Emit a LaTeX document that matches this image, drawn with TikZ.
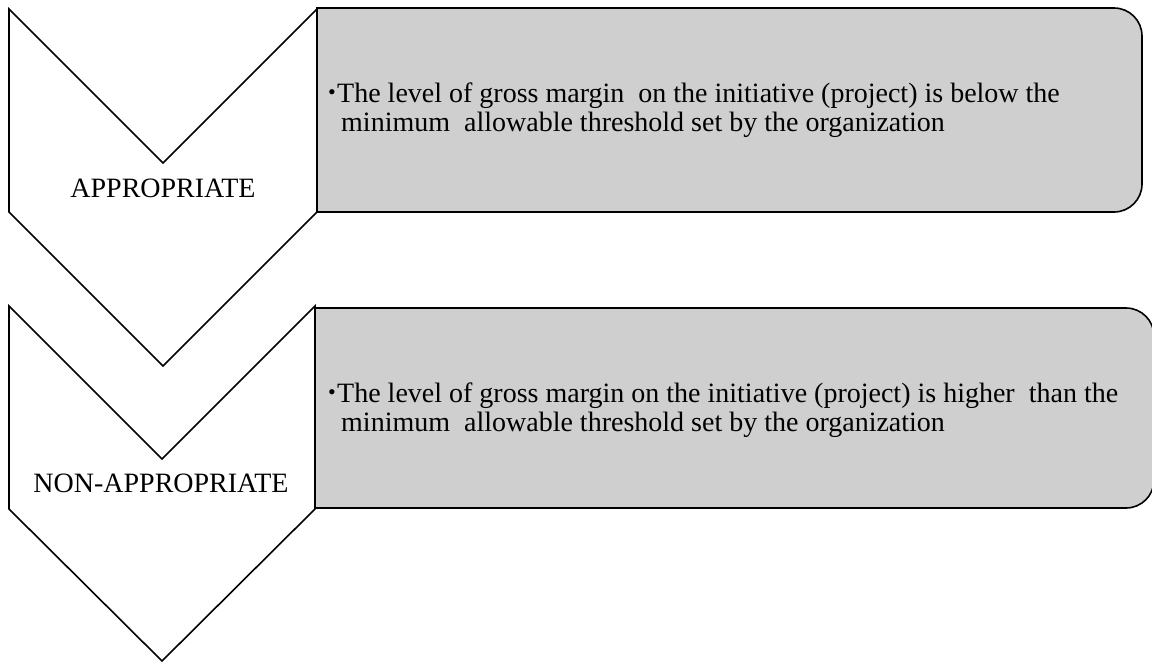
\documentclass[tikz,border=0pt]{standalone}
\usepackage{fontspec}
\setmainfont{Liberation Serif}
\definecolor{boxgray}{RGB}{207,207,207}
\tikzset{
  chev/.style={draw=black, line width=1.6pt, line join=miter},
  panel/.style={draw=black, line width=1.6pt, fill=boxgray},
  lbl/.style={font=\fontsize{28}{29}\selectfont, inner sep=0pt, anchor=base},
  body/.style={font=\fontsize{28}{29}\selectfont, inner sep=0pt, anchor=base west},
  bul/.style={font=\fontsize{22}{22}\selectfont, inner sep=0pt, anchor=base},
}
\begin{document}
\begin{tikzpicture}[x=1pt,y=-1pt]
\useasboundingbox (0,0) rectangle (1152,662);
% panels
\draw[panel] (317,8) -- (1114,8) arc[start angle=-90, end angle=0, radius=28] -- (1142,184) arc[start angle=0, end angle=90, radius=28] -- (317,212) -- cycle;
\draw[panel] (315,308) -- (1126,308) arc[start angle=-90, end angle=0, radius=28] -- (1154,480) arc[start angle=0, end angle=90, radius=28] -- (315,508) -- cycle;
% chevrons
\draw[chev] (9,9) -- (163,163) -- (317,9) -- (317,212) -- (163,366) -- (9,212) -- cycle;
\draw[chev] (9,306) -- (162,459) -- (315,306) -- (315,509) -- (162,661) -- (9,509) -- cycle;
% labels
\node[lbl] (l1) at (163,197) {APPROPRIATE};
\node[lbl] (l2) at (161,492) {NON-APPROPRIATE};
% texts
\node[bul] (b1) at (332,99) {\textbullet};
\node[body] (t1a) at (337,102) {The level of gross margin\ \ on the initiative (project) is below the};
\node[body] (t1b) at (341,131) {minimum\ \ allowable threshold set by the organization};
\node[bul] (b2) at (332,399) {\textbullet};
\node[body] (t2a) at (337,402) {The level of gross margin on the initiative (project) is higher\ \ than the};
\node[body] (t2b) at (341,431) {minimum\ \ allowable threshold set by the organization};
\end{tikzpicture}
\end{document}
